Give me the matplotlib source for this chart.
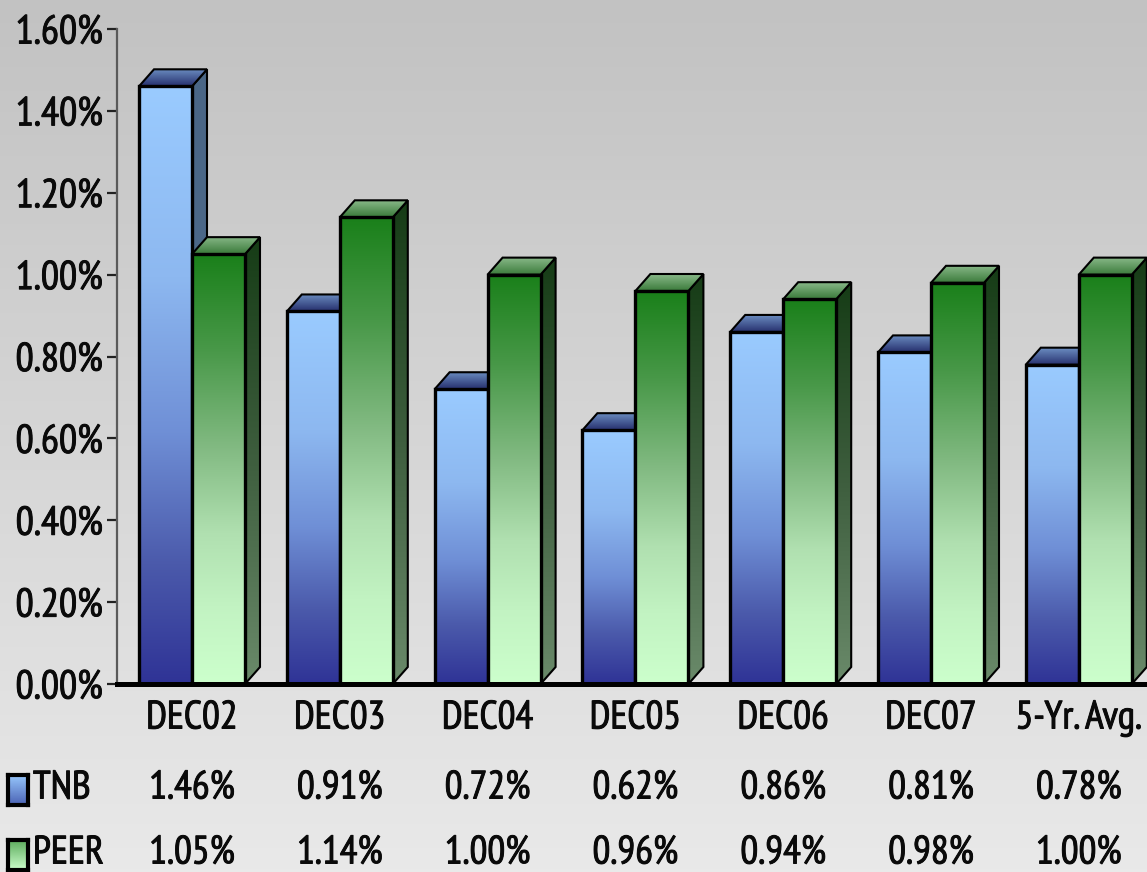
import numpy as np
import matplotlib
matplotlib.use("Agg")
import matplotlib.pyplot as plt
import matplotlib.patheffects as pe
from matplotlib.patches import Polygon
from matplotlib.colors import LinearSegmentedColormap
from matplotlib.transforms import blended_transform_factory
from matplotlib import font_manager

# ---- data ----
categories = ["DEC02", "DEC03", "DEC04", "DEC05", "DEC06", "DEC07", "5-Yr. Avg."]
tnb = [1.46, 0.91, 0.72, 0.62, 0.86, 0.81, 0.78]
peer = [1.05, 1.14, 1.00, 0.96, 0.94, 0.98, 1.00]
series_names = ["TNB", "PEER"]
y_ticks = [0.0, 0.2, 0.4, 0.6, 0.8, 1.0, 1.2, 1.4, 1.6]

# ---- font: a narrow sans face ----
names = {f.name for f in font_manager.fontManager.ttflist}
FONT = "DejaVu Sans"
for cand in ["Liberation Sans Narrow", "PT Sans Narrow", "Roboto Condensed",
             "Archivo Narrow", "Asap Condensed", "Barlow Condensed"]:
    if cand in names:
        FONT = cand
        break
plt.rcParams["font.family"] = [FONT, "DejaVu Sans"]
FS = 28.5
FS_TICK = 29
TXT = "#0a0a0a"
HEAVY = [pe.withStroke(linewidth=0.7, foreground=TXT)]

W, H = 1147, 872
fig = plt.figure(figsize=(W / 100, H / 100), dpi=100)

# ---- figure background gradient ----
bg = fig.add_axes([0, 0, 1, 1], zorder=-10)
bg_cmap = LinearSegmentedColormap.from_list("bg", ["#e9e9e9", "#c2c2c2"])
bg.imshow(np.linspace(0, 1, 256).reshape(-1, 1), cmap=bg_cmap, aspect="auto",
          origin="lower", extent=[0, 1, 0, 1])
bg.axis("off")

# ---- main axes ----
left_px, right_px, bottom_px, top_px = 117, W, 684, 29
ax = fig.add_axes([left_px / W, 1 - bottom_px / H,
                   (right_px - left_px) / W, (bottom_px - top_px) / H])
ax.set_facecolor("none")

pitch_px = 147.8
first_center_px = 192
xmin = (left_px - first_center_px) / pitch_px
xmax = (right_px - first_center_px) / pitch_px
ymax = 1.6
px_per_y = (bottom_px - top_px) / ymax

bw = 53 / pitch_px          # bar width (data units)
dx = 15 / pitch_px          # depth offset, x
dy = 17 / px_per_y          # depth offset, y

front_cmaps = [
    LinearSegmentedColormap.from_list("bf", [(0, "#2f3396"), (0.2, "#4b5aab"), (0.42, "#6f8fd6"),
                                             (0.68, "#8db8f0"), (1.0, "#9acbff")]),
    LinearSegmentedColormap.from_list("gf", [(0, "#ccffcc"), (0.18, "#c2f3c2"), (0.35, "#b0e0b0"),
                                             (0.55, "#82ba82"), (0.78, "#489848"), (1.0, "#1a801a")]),
]
side_cmaps = [
    LinearSegmentedColormap.from_list("bs", ["#4f6d8e", "#4a6686"]),
    LinearSegmentedColormap.from_list("gs", ["#6a8a6a", "#3e5e3e", "#163c16"]),
]
top_cmaps = [
    LinearSegmentedColormap.from_list("bt", ["#27306e", "#6a8cc0"]),
    LinearSegmentedColormap.from_list("gt", ["#3a7a3a", "#8aba8a"]),
]

grad = np.linspace(0, 1, 256).reshape(-1, 1)


def gradient_poly(verts, cmap, z, lw):
    verts = np.asarray(verts)
    poly = Polygon(verts, closed=True, facecolor="none", edgecolor="black",
                   linewidth=lw, joinstyle="miter", zorder=z + 0.5)
    ax.add_patch(poly)
    x0, y0 = verts.min(axis=0)
    x1, y1 = verts.max(axis=0)
    im = ax.imshow(grad, cmap=cmap, aspect="auto", origin="lower",
                   extent=[x0, x1, y0, y1], zorder=z, interpolation="bilinear")
    im.set_clip_path(poly)


z = 2
for i in range(len(categories)):
    for s, vals in enumerate([tnb, peer]):
        h = vals[i]
        x0 = i - bw + s * bw
        x1 = x0 + bw
        # side face
        gradient_poly([(x1, 0), (x1 + dx, dy), (x1 + dx, h + dy), (x1, h)],
                      side_cmaps[s], z, 1.5)
        # top face
        gradient_poly([(x0, h), (x0 + dx, h + dy), (x1 + dx, h + dy), (x1, h)],
                      top_cmaps[s], z + 1, 1.5)
        # front face
        gradient_poly([(x0, 0), (x0, h), (x1, h), (x1, 0)],
                      front_cmaps[s], z + 2, 2.4)
        z += 3

ax.set_xlim(xmin, xmax)
ax.set_ylim(0, ymax)

# ---- axes styling ----
for side in ["top", "right"]:
    ax.spines[side].set_visible(False)
ax.spines["left"].set_color("#5a5a5a")
ax.spines["left"].set_linewidth(1.6)
ax.spines["bottom"].set_color("black")
ax.spines["bottom"].set_linewidth(3.6)
ax.spines["bottom"].set_zorder(200)
ax.set_xticks([])
ax.set_yticks(y_ticks)
ax.set_yticklabels([f"{v:.2f}%" for v in y_ticks])
ax.tick_params(axis="y", length=7.2, width=1.6, color="#222222", pad=3,
               labelsize=FS_TICK, labelcolor=TXT)
for lab in ax.get_yticklabels():
    lab.set_path_effects(HEAVY)

# ---- data table under the chart ----
tr = blended_transform_factory(ax.transData, fig.transFigure)
rows_y = [1 - 788 / H, 1 - 853 / H]
for i, cat in enumerate(categories):
    ax.text(i, 1 - 718 / H, cat, transform=tr, ha="center", va="center",
            fontsize=FS, color=TXT, path_effects=HEAVY)
    ax.text(i, rows_y[0], f"{tnb[i]:.2f}%", transform=tr, ha="center", va="center",
            fontsize=FS, color=TXT, path_effects=HEAVY)
    ax.text(i, rows_y[1], f"{peer[i]:.2f}%", transform=tr, ha="center", va="center",
            fontsize=FS, color=TXT, path_effects=HEAVY)

# row labels with colour swatches
swatch_cmaps = [
    LinearSegmentedColormap.from_list("sw0", ["#4a62b4", "#9acbff"]),
    LinearSegmentedColormap.from_list("sw1", ["#ccffcc", "#58a858"]),
]
swatch_tops = [775, 840]
for s, name in enumerate(series_names):
    sx = fig.add_axes([8 / W, 1 - (swatch_tops[s] + 30) / H, 20 / W, 30 / H])
    sx.imshow(grad, cmap=swatch_cmaps[s], aspect="auto", origin="lower",
              extent=[0, 1, 0, 1])
    sx.set_xticks([])
    sx.set_yticks([])
    for sp in sx.spines.values():
        sp.set_linewidth(3)
        sp.set_color("black")
    fig.text(33 / W, rows_y[s], name, ha="left", va="center", fontsize=FS,
             color=TXT, path_effects=HEAVY)

fig.savefig("out.png", dpi=100)
